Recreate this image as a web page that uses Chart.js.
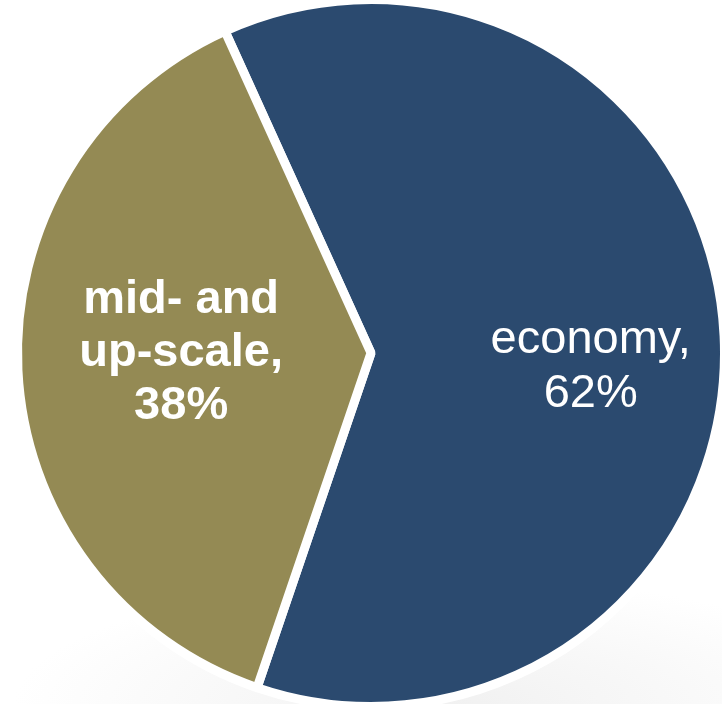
<!DOCTYPE html>
<html>
<head>
<meta charset="utf-8">
<script src="https://cdn.jsdelivr.net/npm/chart.js@4/dist/chart.umd.min.js"></script>
<style>
    html, body {
        margin: 0;
        padding: 0;
        background: radial-gradient(ellipse 60% 18% at 62% 100%, #f1f1f1 0%, #ffffff 100%);
        width: 722px;
        height: 704px;
        overflow: hidden;
    }
    #wrap {
        position: relative;
        width: 722px;
        height: 704px;
    }
</style>
</head>
<body>
<div id="wrap"><canvas id="segmentPie"></canvas></div>
<script>
const segments = ['economy', 'mid- and up-scale'];
const shares = [62, 38];
const sliceColors = ['#2b4a6f', '#948a54'];
// label lines per slice (value appended from shares)
const labelLines = [['economy,'], ['mid- and', 'up-scale,']];

document.addEventListener('DOMContentLoaded', function() {
    const canvas = document.getElementById('segmentPie');

    // writes the category and share inside each slice
    const sliceLabels = {
        id: 'sliceLabels',
        afterDatasetsDraw(chart) {
            const ctx = chart.ctx;
            const meta = chart.getDatasetMeta(0);
            const styles = [
                { font: '47px "Liberation Sans", Arial, sans-serif', lineHeight: 54, r: 0.625, dy: 25 },
                { font: 'bold 47px "Liberation Sans", Arial, sans-serif', lineHeight: 53, r: 0.54, dy: -9 }
            ];
            meta.data.forEach((arc, i) => {
                const s = styles[i];
                const mid = (arc.startAngle + arc.endAngle) / 2;
                const cx = arc.x + Math.cos(mid) * 352 * s.r;
                const cy = arc.y + Math.sin(mid) * 352 * s.r + s.dy;
                const lines = labelLines[i].concat(shares[i] + '%');
                ctx.save();
                ctx.fillStyle = '#ffffff';
                ctx.font = s.font;
                ctx.textAlign = 'center';
                ctx.textBaseline = 'middle';
                const top = cy - (lines.length - 1) * s.lineHeight / 2;
                lines.forEach((line, k) => {
                    ctx.fillText(line, cx, top + k * s.lineHeight);
                });
                ctx.restore();
            });
        }
    };

    new Chart(canvas, {
        type: 'pie',
        data: {
            labels: segments,
            datasets: [{
                data: shares,
                backgroundColor: sliceColors,
                borderColor: '#ffffff',
                borderWidth: 9,
                hoverOffset: 0,
                radius: 353.5
            }]
        },
        options: {
            responsive: true,
            maintainAspectRatio: false,
            animation: false,
            rotation: -24.4,
            layout: {
                padding: { left: 21, top: 3, right: 1, bottom: 1 }
            },
            plugins: {
                legend: { display: false },
                tooltip: { enabled: false }
            }
        },
        plugins: [sliceLabels]
    });
});
</script>
</body>
</html>
